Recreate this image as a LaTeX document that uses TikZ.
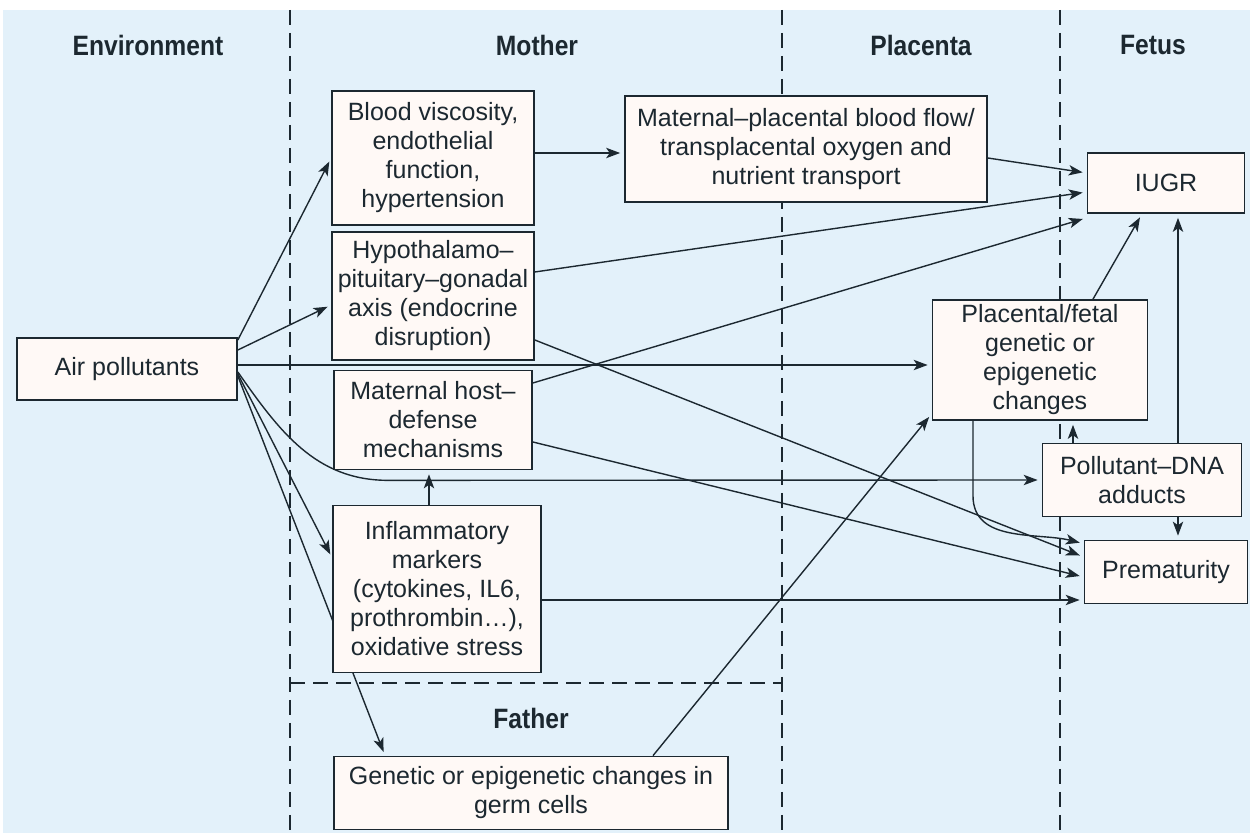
\documentclass[tikz,border=0pt]{standalone}
\usepackage{fontspec}
\setmainfont{Liberation Sans}
\newfontfamily\headfont{Liberation Sans}[FakeStretch=0.88]
\usepackage{xcolor}
\usepackage{tikz}
\usetikzlibrary{arrows.meta, calc, positioning, backgrounds}
\definecolor{paneblue}{HTML}{E3F1FA}
\definecolor{inkdark}{HTML}{1C2830}
\definecolor{boxwhite}{HTML}{FFF9F6}

\begin{document}
\begin{tikzpicture}[x=0.5pt,y=-0.5pt,
                    main box/.style={draw=inkdark,fill=boxwhite,line width=0.85pt,align=center,inner sep=0pt,
                                     text=inkdark,font=\fontsize{12.5}{14.5}\selectfont},
                    head/.style={text=inkdark,font=\headfont\bfseries\fontsize{14}{16}\selectfont},
                    link/.style={color=inkdark,line width=0.7pt,-{Stealth[length=7pt,width=5.2pt,inset=1.8pt]},shorten >=2pt},
                    zone/.style={draw=inkdark,line width=0.6pt,dash pattern=on 7.5pt off 4pt}]

 \useasboundingbox (0,0) rectangle (1250,833);

 \node[head] (envt) at (148,45) {Environment};
 \node[head] (moth) at (537,45) {Mother};
 \node[head] (plct) at (921,45) {Placenta};
 \node[head] (fets) at (1153,45) {Fetus};
 \node[head] (fath) at (531,718) {Father};

 \node[main box,minimum width=110pt,minimum height=31pt] (air) at (127,369) {Air pollutants};
 \node[main box,minimum width=101pt,minimum height=67pt] (blood) at (433,158) {Blood viscosity,\\endothelial\\function,\\hypertension};
 \node[main box,minimum width=181pt,minimum height=53pt] (flow) at (806,149) {Maternal–placental blood flow/\\transplacental oxygen and\\nutrient transport};
 \node[main box,minimum width=101pt,minimum height=64pt] (hpg) at (433,296) {Hypothalamo–\\pituitary–gonadal\\axis (endocrine\\disruption)};
 \node[main box,minimum width=99pt,minimum height=49.5pt] (host) at (433,420) {Maternal host–\\defense\\mechanisms};
 \node[main box,minimum width=104pt,minimum height=83.5pt] (inflam) at (437,589) {Inflammatory\\markers\\(cytokines, IL6,\\prothrombin…),\\oxidative stress};
 \node[main box,minimum width=197pt,minimum height=36.5pt] (germ) at (531,793) {Genetic or epigenetic changes in\\germ cells};
 \node[main box,minimum width=78.5pt,minimum height=30pt] (iugr) at (1166,183) {IUGR};
 \node[main box,minimum width=107.5pt,minimum height=60pt] (plac) at (1040,360) {Placental/fetal\\genetic or\\epigenetic\\changes};
 \node[main box,minimum width=99.5pt,minimum height=36.5pt] (dna) at (1142,480) {Pollutant–DNA\\adducts};
 \node[main box,minimum width=81.5pt,minimum height=31.5pt] (prem) at (1166,572) {Prematurity};

 \begin{scope}[on background layer]
  \fill[paneblue] (3,10) rectangle (1250,833);
  \draw[zone] (290,10) -- (290,833);
  \draw[zone] (782,10) -- (782,833);
  \draw[zone] (1060,10) -- (1060,833);
  \draw[zone] (290,683) -- (782,683);

  \path[link]
  ([yshift=14.5pt]air.east) edge (blood.west)
  ([yshift=9.5pt]air.east) edge ([yshift=-4.5pt]hpg.west)
  ([yshift=2pt]air.east) edge ([yshift=-2.5pt]plac.west)
  ([yshift=-2.5pt]air.east) edge ([yshift=15.5pt]inflam.west)
  ([yshift=-3.5pt]air.east) edge ([xshift=-73pt]germ.north);

  \draw[link] ([yshift=-1.5pt]air.east) to[out=-55,in=180] ($(host.south)+(-45,10)$) -- (dna.west);

  \path[link]
  ([yshift=2.5pt]blood.east) edge ([yshift=-2pt]flow.west)
  ([yshift=-4.5pt]flow.east) edge ([yshift=5pt]iugr.west)
  ([yshift=12pt]hpg.east) edge ([yshift=-4.5pt]iugr.west)
  ([yshift=18.5pt]host.east) edge ([yshift=-2pt]iugr.south west)
  ([xshift=26.5pt]plac.north) edge ([xshift=-12pt]iugr.south)
  ([xshift=18pt]dna.north) edge ([xshift=6pt]iugr.south)
  ([xshift=-34.5pt]dna.north) edge ([xshift=16.5pt]plac.south)
  ([xshift=18pt]dna.south) edge ([xshift=6pt]prem.north)
  ([yshift=-22pt]hpg.east) edge ([yshift=7.5pt]prem.west)
  ([yshift=-11pt]host.east) edge ([yshift=-2.5pt]prem.west)
  ([yshift=-5.5pt]inflam.east) edge ([yshift=-14pt]prem.west)
  ([xshift=-4pt]inflam.north) edge ([xshift=-2pt]host.south)
  ([xshift=61pt]germ.north) edge ([yshift=3.5pt]plac.south west);

  \draw[link] ([xshift=-33.5pt]plac.south) -- ++(0,75) to[out=-90,in=166] ([yshift=-2pt]prem.north west);
 \end{scope}

\end{tikzpicture}
\end{document}
